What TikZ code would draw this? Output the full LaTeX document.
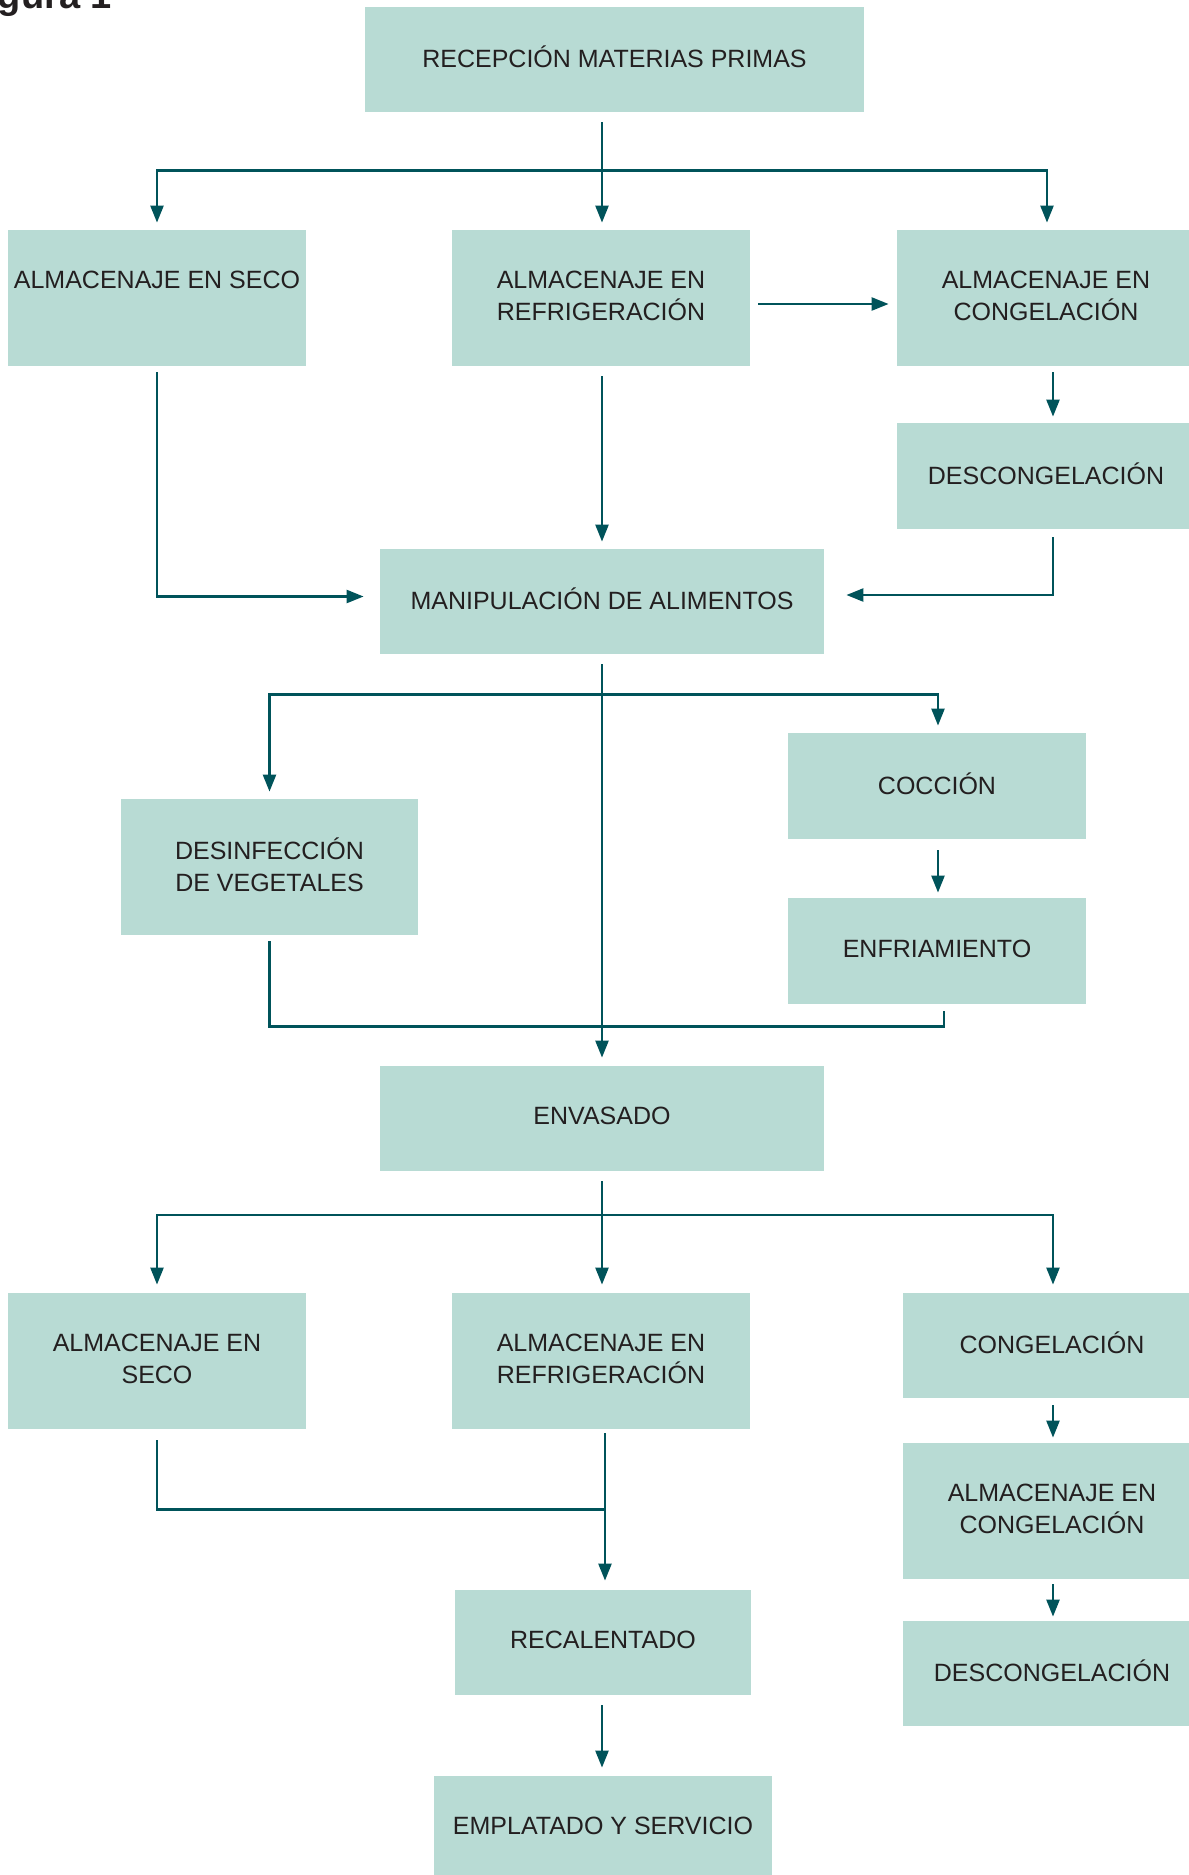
\documentclass[tikz,border=0pt]{standalone}
\usepackage{fontspec}
\setmainfont{Liberation Sans}
\usetikzlibrary{arrows.meta,calc}
\definecolor{boxc}{HTML}{B8DBD4}
\definecolor{linec}{HTML}{00535A}
\definecolor{txtc}{HTML}{231F20}
\tikzset{
  box/.style={fill=boxc, draw=none, text=txtc, align=center, inner sep=0pt,
    text depth=2.5pt, font=\fontsize{12.5}{15.8}\selectfont},
  ln/.style={draw=linec, line width=1.2pt},
  arr/.style={ln, -{Triangle[length=8.5pt,width=6.5pt]}},
}
\begin{document}
\begin{tikzpicture}[x=0.5pt,y=-0.5pt]
\useasboundingbox (0,0) rectangle (1189,1875);
\clip (0,0) rectangle (1189,1875);
\node[anchor=base east, text=txtc, font=\bfseries\fontsize{19}{19}\selectfont] (fig) at (119,8) {Figura 1};
% boxes
\node[box, minimum width=249.5pt, minimum height=52.5pt] (R) at (614.5,59.5) {RECEPCIÓN MATERIAS PRIMAS};
\node[box, minimum width=149pt, minimum height=68pt] (S1) at (157,298) {ALMACENAJE EN SECO\\~};
\node[box, minimum width=149pt, minimum height=68pt] (F1) at (601,298) {ALMACENAJE EN\\REFRIGERACIÓN};
\node[box, minimum width=149pt, minimum height=68pt] (C1) at (1046,298) {ALMACENAJE EN\\CONGELACIÓN};
\node[box, minimum width=149pt, minimum height=53pt] (D1) at (1046,476) {DESCONGELACIÓN};
\node[box, minimum width=222pt, minimum height=52.5pt] (M) at (602,601.5) {MANIPULACIÓN DE ALIMENTOS};
\node[box, minimum width=149pt, minimum height=53pt] (Co) at (937,786) {COCCIÓN};
\node[box, minimum width=148.5pt, minimum height=68pt] (Ds) at (269.5,867) {DESINFECCIÓN\\DE VEGETALES};
\node[box, minimum width=149pt, minimum height=53pt] (En) at (937,951) {ENFRIAMIENTO};
\node[box, minimum width=222pt, minimum height=52.5pt] (Env) at (602,1118.5) {ENVASADO};
\node[box, minimum width=149pt, minimum height=68pt] (S2) at (157,1361) {ALMACENAJE EN\\SECO};
\node[box, minimum width=149pt, minimum height=68pt] (F2) at (601,1361) {ALMACENAJE EN\\REFRIGERACIÓN};
\node[box, minimum width=149pt, minimum height=52.5pt] (C2) at (1052,1345.5) {CONGELACIÓN};
\node[box, minimum width=149pt, minimum height=68pt] (AC2) at (1052,1511) {ALMACENAJE EN\\CONGELACIÓN};
\node[box, minimum width=149pt, minimum height=52.5pt] (D2) at (1052,1673.5) {DESCONGELACIÓN};
\node[box, minimum width=148pt, minimum height=52.5pt] (Rc) at (603,1642.5) {RECALENTADO};
\node[box, minimum width=169pt, minimum height=52.5pt] (Em) at (603,1828.5) {EMPLATADO Y SERVICIO};
% connectors
\coordinate (j1) at ($(F1.north)+(1,-59)$);
\draw[arr] ($(R.south -| j1)+(0,10)$) -- ($(F1.north)+(1,-7)$);
\draw[arr] (j1) -| ($(S1.north)+(0,-7)$);
\draw[arr] (j1) -| ($(C1.north)+(1,-7)$);
\draw[arr] ($(F1.east)+(8,6)$) -- ($(C1.west)+(-8,6)$);
\draw[arr] ($(C1.south)+(7,6)$) -- ($(D1.north)+(7,-6)$);
\draw[arr] ($(S1.south)+(0,6)$) |- ($(M.west)+(-16,-5)$);
\draw[arr] ($(F1.south)+(1,10)$) -- ($(M.north)+(0,-7)$);
\draw[arr] ($(D1.south)+(7,8)$) |- ($(M.east)+(22,-6.5)$);
\coordinate (j2) at ($(M.south)+(0,40)$);
\draw[arr] ($(M.south)+(0,10)$) -- ($(Env.north)+(0,-8)$);
\draw[arr] (j2) -| ($(Ds.north)+(0,-7)$);
\draw[arr] (j2) -| ($(Co.north)+(1,-7)$);
\draw[arr] ($(Co.south)+(1,11)$) -- ($(En.north)+(1,-5)$);
\draw[ln] ($(Ds.south)+(0,6)$) |- ($(En.south)+(7,22)$) -- ($(En.south)+(7,7)$);
\coordinate (j3) at ($(Env.south)+(0,43.5)$);
\draw[arr] ($(Env.south)+(0,10)$) -- ($(F2.north)+(1,-8)$);
\draw[arr] (j3) -| ($(S2.north)+(0,-8)$);
\draw[arr] (j3) -| ($(C2.north)+(1,-8)$);
\draw[arr] ($(C2.south)+(1,7)$) -- ($(AC2.north)+(1,-5)$);
\draw[arr] ($(AC2.south)+(1,5)$) -- ($(D2.north)+(1,-4)$);
\draw[ln] ($(S2.south)+(0,11)$) |- ($(F2.south)+(4,80)$);
\draw[arr] ($(F2.south)+(4,4)$) -- ($(Rc.north)+(2,-9)$);
\draw[arr] ($(Rc.south)+(-1,10)$) -- ($(Em.north)+(-1,-8)$);
\end{tikzpicture}
\end{document}
